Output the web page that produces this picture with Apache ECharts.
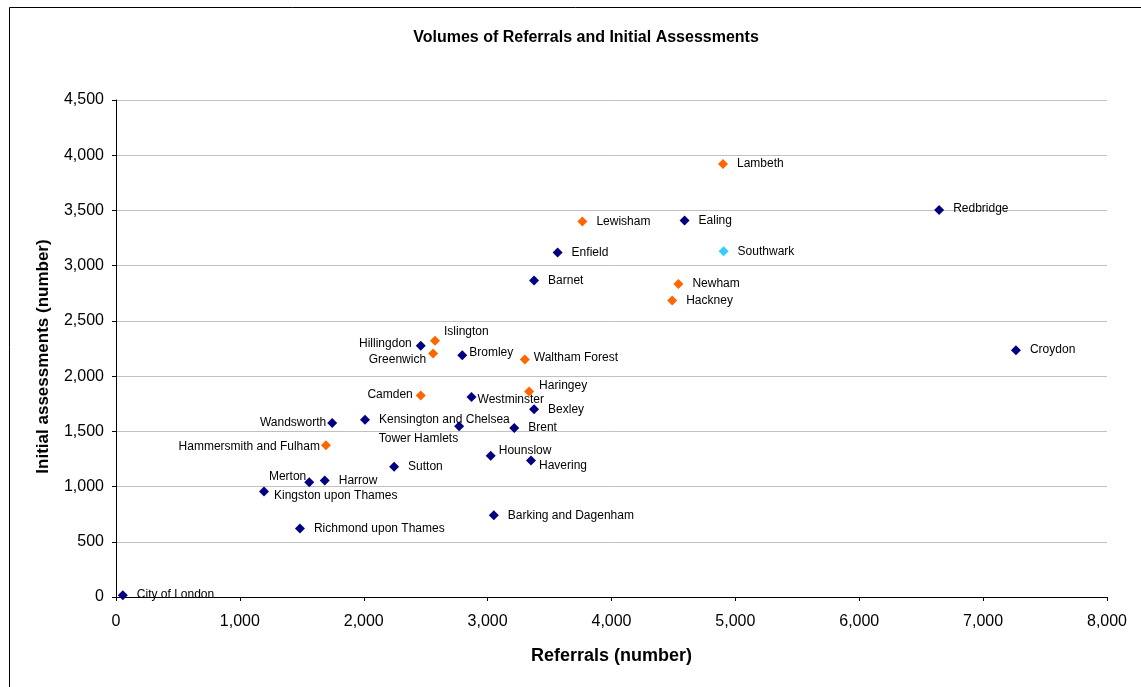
<!DOCTYPE html>
<html>
<head>
<meta charset="utf-8">
<title>Volumes of Referrals and Initial Assessments</title>
<script src="https://cdn.jsdelivr.net/npm/echarts@6/dist/echarts.min.js"></script>
<style>
  html, body { margin: 0; padding: 0; background: #fff; }
  #chart { width: 1141px; height: 687px; }
</style>
</head>
<body>
<div id="chart"></div>
<script>
// London boroughs: referrals vs initial assessments
const boroughs = [
  'Lambeth', 'Lewisham', 'Ealing', 'Enfield', 'Southwark', 'Barnet', 'Newham', 'Hackney',
  'Redbridge', 'Croydon', 'Islington', 'Hillingdon', 'Greenwich', 'Bromley', 'Waltham Forest',
  'Camden', 'Westminster', 'Haringey', 'Bexley', 'Kensington and Chelsea', 'Tower Hamlets',
  'Brent', 'Wandsworth', 'Hammersmith and Fulham', 'Hounslow', 'Havering', 'Sutton',
  'Merton', 'Harrow', 'Kingston upon Thames', 'Barking and Dagenham', 'Richmond upon Thames',
  'City of London'
];
const referrals = [
  4900, 3765, 4590, 3565, 4905, 3375, 4540, 4490,
  6645, 7265, 2575, 2460, 2560, 2795, 3300,
  2460, 2870, 3335, 3375, 2010, 2770,
  3215, 1745, 1695, 3025, 3350, 2245,
  1560, 1685, 1195, 3050, 1485,
  55
];
const assessments = [
  3920, 3400, 3410, 3120, 3130, 2865, 2835, 2685,
  3505, 2235, 2320, 2275, 2205, 2190, 2150,
  1825, 1810, 1860, 1700, 1605, 1545,
  1530, 1575, 1375, 1280, 1235, 1180,
  1040, 1055, 955, 740, 620,
  15
];
// group of each borough: 'inner', 'outer' or 'highlight'
const groups = [
  'inner', 'inner', 'outer', 'outer', 'highlight', 'outer', 'inner', 'inner',
  'outer', 'outer', 'inner', 'outer', 'inner', 'outer', 'inner',
  'inner', 'outer', 'inner', 'outer', 'outer', 'outer',
  'outer', 'outer', 'inner', 'outer', 'outer', 'outer',
  'outer', 'outer', 'outer', 'outer', 'outer',
  'outer'
];
const xTicks = [0, 1000, 2000, 3000, 4000, 5000, 6000, 7000, 8000];
const yTicks = [0, 500, 1000, 1500, 2000, 2500, 3000, 3500, 4000, 4500];

// label placement: [position, distance, dx, dy]
const labelPlace = {
  'Islington': ['right', 9, -5, -9],
  'Hillingdon': ['left', 4, 0, -2],
  'Greenwich': ['left', 2, 0, 6],
  'Bromley': ['right', 2, 0, -2],
  'Waltham Forest': ['right', 4, 0, -2],
  'Camden': ['left', 3, 0, -1],
  'Westminster': ['right', 1, 0, 3],
  'Haringey': ['right', 5, 0, -6],
  'Tower Hamlets': ['left', -4, 0, 12],
  'Wandsworth': ['left', 1, 0, 0],
  'Hammersmith and Fulham': ['left', 1, 0, 2],
  'Hounslow': ['right', 3, 0, -5],
  'Havering': ['right', 3, 0, 5],
  'Merton': ['left', -2, 0, -5],
  'Kingston upon Thames': ['right', 5, 0, 4],
  'Redbridge': ['right', 9, 0, -1],
  'City of London': ['right', 9, 0, -1]
};

const FONT = '"Liberation Sans", Arial, sans-serif';
const fmt = v => v.toLocaleString('en-US');

function seriesData(group) {
  const out = [];
  boroughs.forEach((name, i) => {
    if (groups[i] !== group) return;
    const p = labelPlace[name] || ['right', 9, 0, 0];
    out.push({
      name: name,
      value: [referrals[i], assessments[i]],
      label: { position: p[0], distance: p[1], offset: [p[2], p[3]] }
    });
  });
  return out;
}

const labelStyle = {
  show: true,
  formatter: '{b}',
  fontFamily: FONT,
  fontSize: 12,
  color: '#000'
};

function scatter(group, color) {
  return {
    type: 'scatter',
    name: group,
    symbol: 'diamond',
    symbolSize: 10,
    itemStyle: { color: color, opacity: 1 },
    label: labelStyle,
    emphasis: { disabled: true },
    data: seriesData(group)
  };
}

const chart = echarts.init(document.getElementById('chart'), null, { renderer: 'canvas' });
chart.setOption({
  animation: false,
  backgroundColor: '#fff',
  grid: { left: 116, right: 34, top: 100, bottom: 90, containLabel: false },
  graphic: [
    {
      type: 'rect', z: -10, silent: true,
      shape: { x: 9.5, y: 7.5, width: 1300, height: 800 },
      style: { fill: 'none', stroke: '#000', lineWidth: 1 }
    },
    {
      type: 'text', silent: true,
      x: 586, y: 38,
      style: {
        text: 'Volumes of Referrals and Initial Assessments',
        textAlign: 'center', textVerticalAlign: 'middle',
        font: 'bold 16px ' + FONT, fill: '#000'
      }
    }
  ],
  xAxis: {
    type: 'value',
    min: xTicks[0], max: xTicks[xTicks.length - 1], interval: xTicks[1] - xTicks[0],
    name: 'Referrals (number)',
    nameLocation: 'middle',
    nameGap: 50,
    nameTextStyle: { fontFamily: FONT, fontSize: 18, fontWeight: 'bold', color: '#000' },
    axisLine: { show: true, onZero: false, lineStyle: { color: '#000', width: 1 } },
    axisTick: { show: true, length: 4, lineStyle: { color: '#000' } },
    axisLabel: { fontFamily: FONT, fontSize: 16, color: '#000', margin: 17, formatter: fmt },
    splitLine: { show: false }
  },
  yAxis: {
    type: 'value',
    min: yTicks[0], max: yTicks[yTicks.length - 1], interval: yTicks[1] - yTicks[0],
    name: 'Initial assessments (number)',
    nameLocation: 'middle',
    nameGap: 64,
    nameTextStyle: {
      fontFamily: FONT, fontSize: 17, fontWeight: 'bold', color: '#000',
      padding: [0, 16, 0, 0]
    },
    axisLine: { show: true, onZero: false, lineStyle: { color: '#000', width: 1 } },
    axisTick: { show: true, length: 4, lineStyle: { color: '#000' } },
    axisLabel: { fontFamily: FONT, fontSize: 16, color: '#000', margin: 12, formatter: fmt },
    splitLine: { show: true, lineStyle: { color: '#c0c0c0', width: 1 } }
  },
  series: [
    scatter('outer', '#000080'),
    scatter('inner', '#FF6600'),
    scatter('highlight', '#33CCFF')
  ]
});
</script>
</body>
</html>
